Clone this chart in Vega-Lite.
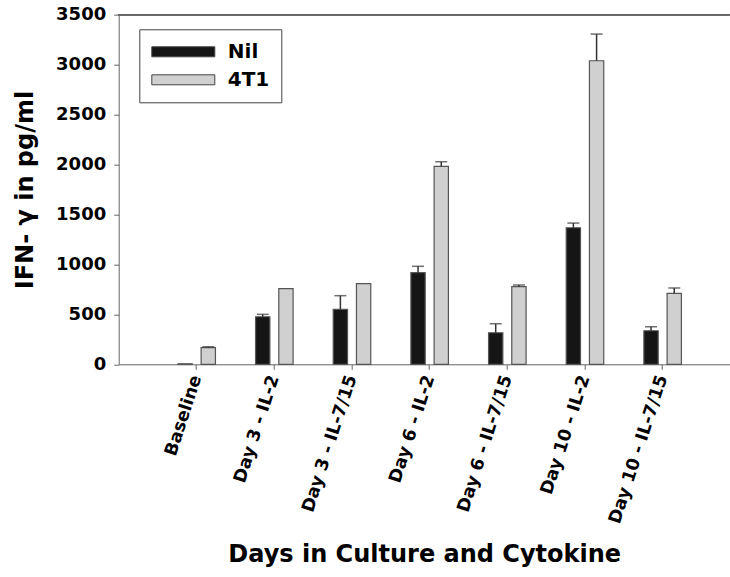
{
  "$schema": "https://vega.github.io/schema/vega-lite/v6.json",
  "width": 611,
  "height": 349.6,
  "autosize": {"type": "none"},
  "padding": {"left": 118.7, "top": 14.7, "right": 0.3, "bottom": 212.7},
  "background": "white",
  "config": {
    "view": {"stroke": null},
    "font": "DejaVu Sans",
    "axis": {
      "domainColor": "#666",
      "tickColor": "#666",
      "tickSize": 5,
      "grid": false,
      "labelColor": "black",
      "labelFontWeight": "bold",
      "titleColor": "black",
      "titleFontWeight": "bold"
    }
  },
  "data": {
    "values": [
      {"cat": "Baseline", "grp": "Nil", "val": 5, "hi": null},
      {"cat": "Baseline", "grp": "4T1", "val": 166, "hi": 176},
      {"cat": "Day 3 - IL-2", "grp": "Nil", "val": 476, "hi": 500},
      {"cat": "Day 3 - IL-2", "grp": "4T1", "val": 757, "hi": null},
      {"cat": "Day 3 - IL-7/15", "grp": "Nil", "val": 550, "hi": 687},
      {"cat": "Day 3 - IL-7/15", "grp": "4T1", "val": 807, "hi": null},
      {"cat": "Day 6 - IL-2", "grp": "Nil", "val": 917, "hi": 981},
      {"cat": "Day 6 - IL-2", "grp": "4T1", "val": 1982, "hi": 2028},
      {"cat": "Day 6 - IL-7/15", "grp": "Nil", "val": 316, "hi": 406},
      {"cat": "Day 6 - IL-7/15", "grp": "4T1", "val": 777, "hi": 794},
      {"cat": "Day 10 - IL-2", "grp": "Nil", "val": 1367, "hi": 1414},
      {"cat": "Day 10 - IL-2", "grp": "4T1", "val": 3039, "hi": 3306},
      {"cat": "Day 10 - IL-7/15", "grp": "Nil", "val": 336, "hi": 376},
      {"cat": "Day 10 - IL-7/15", "grp": "4T1", "val": 711, "hi": 764}
    ]
  },
  "encoding": {
    "x": {
      "field": "cat",
      "type": "nominal",
      "sort": ["Baseline", "Day 3 - IL-2", "Day 3 - IL-7/15", "Day 6 - IL-2", "Day 6 - IL-7/15", "Day 10 - IL-2", "Day 10 - IL-7/15"],
      "scale": {"paddingInner": 0, "paddingOuter": 0.4337, "align": 0.581},
      "axis": {
        "title": "Days in Culture and Cytokine",
        "titleFontSize": 24,
        "titlePadding": 17,
        "labelAngle": -72,
        "labelFontSize": 17.5,
        "labelPadding": 6
      }
    },
    "xOffset": {
      "field": "grp",
      "sort": ["Nil", "4T1"],
      "scale": {"paddingInner": 0.384, "paddingOuter": 0.864}
    }
  },
  "layer": [
    {
      "mark": {"type": "rule", "color": "#666", "strokeWidth": 1},
      "encoding": {"x": null, "xOffset": null, "y": {"datum": 3500, "type": "quantitative"}}
    },
    {
      "mark": {"type": "bar", "stroke": "#555", "strokeWidth": 1.2},
      "encoding": {
        "y": {
          "field": "val",
          "type": "quantitative",
          "scale": {"domain": [0, 3500], "nice": false},
          "axis": {
            "title": "IFN- γ in pg/ml",
            "titleFontSize": 24,
            "titlePadding": 18,
            "labelFontSize": 18,
            "labelPadding": 8,
            "format": "d",
            "values": [0, 500, 1000, 1500, 2000, 2500, 3000, 3500]
          }
        },
        "color": {
          "field": "grp",
          "type": "nominal",
          "scale": {"domain": ["Nil", "4T1"], "range": ["#151515", "#d0d0d0"]},
          "legend": {
            "title": null,
            "orient": "none",
            "legendX": 20.6,
            "legendY": 14.6,
            "symbolType": "M-3.15,-0.5H3.15V0.5H-3.15Z",
            "symbolSize": 400,
            "symbolOffset": 21.5,
            "labelOffset": 34,
            "labelFontSize": 20,
            "labelFontWeight": "bold",
            "labelColor": "black",
            "strokeColor": "#444",
            "padding": 12,
            "rowPadding": 7,
            "symbolStrokeColor": "#444",
            "symbolStrokeWidth": 1,
            "symbolOpacity": 1
          }
        }
      }
    },
    {
      "transform": [{"filter": "datum.hi != null"}],
      "mark": {"type": "rule", "color": "#333", "strokeWidth": 1.5},
      "encoding": {
        "y": {"field": "val", "type": "quantitative"},
        "y2": {"field": "hi"}
      }
    },
    {
      "transform": [{"filter": "datum.hi != null"}],
      "mark": {"type": "tick", "color": "#333", "thickness": 1.5, "size": 12},
      "encoding": {
        "y": {"field": "hi", "type": "quantitative"}
      }
    }
  ]
}
